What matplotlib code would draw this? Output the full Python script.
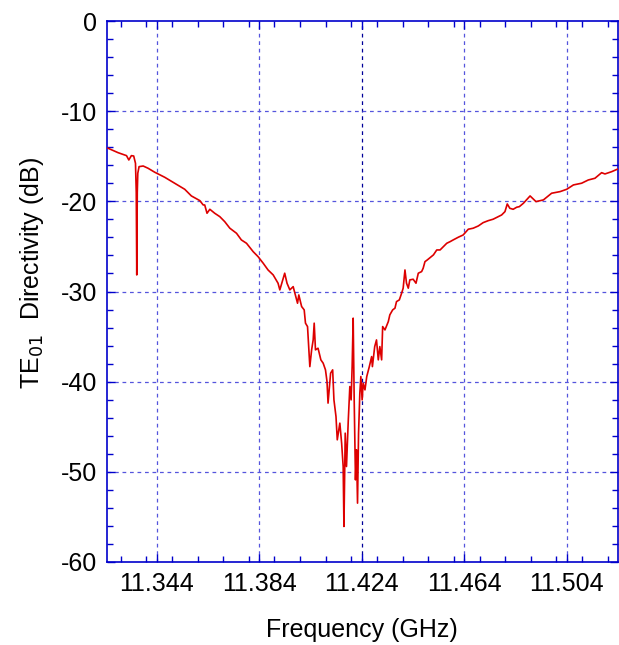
import matplotlib.pyplot as plt
from matplotlib.ticker import MultipleLocator, FixedLocator
import numpy as np

# frequency (GHz) and TE01 directivity (dB)
freq = [11.3251, 11.3290, 11.3323, 11.3332, 11.3342, 11.3351, 11.3358, 11.3361,
        11.3363, 11.3365, 11.3367, 11.3372, 11.3388, 11.3407, 11.3433, 11.3472,
        11.3511, 11.3550, 11.3576, 11.3609, 11.3622, 11.3628, 11.3637, 11.3648,
        11.3667, 11.3687, 11.3706, 11.3726, 11.3752, 11.3771, 11.3791, 11.3817,
        11.3836, 11.3856, 11.3875, 11.3895, 11.3914, 11.3921, 11.3940, 11.3949,
        11.3960, 11.3973, 11.3990, 11.3995, 11.4006, 11.4016, 11.4021, 11.4029,
        11.4038, 11.4045, 11.4051, 11.4055, 11.4060, 11.4070, 11.4081, 11.4090,
        11.4099, 11.4105, 11.4109, 11.4119, 11.4127, 11.4132, 11.4140, 11.4145,
        11.4155, 11.4162, 11.4168, 11.4171, 11.4176, 11.4181, 11.4188, 11.4194,
        11.4199, 11.4203, 11.4207, 11.4211, 11.4216, 11.4220, 11.4224, 11.4228,
        11.4233, 11.4237, 11.4242, 11.4246, 11.4253, 11.4260, 11.4270, 11.4279,
        11.4282, 11.4291, 11.4298, 11.4305, 11.4311, 11.4318, 11.4322, 11.4331,
        11.4344, 11.4350, 11.4361, 11.4370, 11.4376, 11.4387, 11.4396, 11.4402,
        11.4409, 11.4415, 11.4422, 11.4428, 11.4441, 11.4452, 11.4461, 11.4474,
        11.4480, 11.4487, 11.4496, 11.4504, 11.4520, 11.4533, 11.4546, 11.4559,
        11.4572, 11.4585, 11.4597, 11.4617, 11.4636, 11.4656, 11.4675, 11.4695,
        11.4714, 11.4734, 11.4753, 11.4773, 11.4786, 11.4799, 11.4808, 11.4818,
        11.4831, 11.4845, 11.4855, 11.4871, 11.4897, 11.4920, 11.4949, 11.4981,
        11.5014, 11.5040, 11.5066, 11.5098, 11.5124, 11.5150, 11.5176, 11.5189,
        11.5215, 11.5237]
directivity = [-14.11, -14.60, -14.93, -15.41, -14.93, -14.97, -15.78, -19.0,
               -28.16, -19.0, -16.88, -16.15, -16.08, -16.33, -16.77, -17.33,
               -17.99, -18.66, -19.40, -19.92, -20.40, -20.40, -21.32, -20.88,
               -21.32, -21.70, -22.25, -22.98, -23.54, -24.28, -24.65, -25.58,
               -26.13, -26.86, -27.61, -28.16, -29.08, -29.82, -27.97, -29.08,
               -29.82, -29.46, -31.30, -30.38, -31.67, -32.04, -33.51, -33.89,
               -38.33, -36.47, -35.37, -33.51, -36.47, -36.29, -37.58, -37.95,
               -38.69, -39.99, -42.38, -39.06, -38.69, -42.02, -43.87, -46.45,
               -44.60, -46.82, -49.41, -56.06, -45.71, -49.41, -44.24, -40.54,
               -42.02, -38.33, -32.96, -42.02, -50.89, -47.56, -53.47, -45.71,
               -41.27, -39.43, -42.02, -40.17, -40.91, -39.43, -38.33, -37.22,
               -38.33, -36.11, -35.37, -37.58, -36.11, -37.58, -33.89, -34.26,
               -33.34, -32.59, -32.04, -31.85, -31.12, -30.93, -30.19, -29.63,
               -27.61, -29.08, -29.63, -28.71, -28.64, -29.08, -27.97, -27.79,
               -27.42, -26.69, -26.50, -26.31, -25.94, -25.39, -25.39, -25.02,
               -24.65, -24.47, -24.28, -23.98, -23.73, -23.09, -22.98, -22.73,
               -22.36, -22.14, -21.98, -21.70, -21.51, -21.14, -20.29, -20.77,
               -20.88, -20.65, -20.59, -20.21, -19.40, -20.03, -19.84, -19.10,
               -18.92, -18.66, -18.18, -17.99, -17.63, -17.44, -16.82, -16.96,
               -16.71, -16.44]

x_ticks = [11.344, 11.384, 11.424, 11.464, 11.504]
x_tick_labels = ["11.344", "11.384", "11.424", "11.464", "11.504"]

plt.rcParams['font.family'] = ['Liberation Sans', 'DejaVu Sans']
plt.rcParams['axes.unicode_minus'] = False

fig = plt.figure(figsize=(6.19, 6.45), dpi=100)
ax = fig.add_axes([0.1729, 0.1287, 0.8247, 0.8387])

ax.set_xlim(11.3247, 11.5238)
ax.set_ylim(-60, 0)

# grid: light blue dashes, the 11.424 line is darker
for xv in x_ticks:
    col = '#000099' if xv == 11.424 else '#5555dd'
    ax.axvline(xv, color=col, ls=(0, (3, 3)), lw=0.9, zorder=1)
for yv in range(-50, 0, 10):
    ax.axhline(yv, color='#5555dd', ls=(0, (3, 3)), lw=0.9, zorder=1)

ax.plot(freq, directivity, color='#dd0000', lw=1.2, zorder=3)

ax.xaxis.set_major_locator(FixedLocator(x_ticks))
ax.set_xticklabels(x_tick_labels)
ax.xaxis.set_minor_locator(MultipleLocator(0.01))
ax.yaxis.set_major_locator(MultipleLocator(10))
ax.yaxis.set_minor_locator(MultipleLocator(2))

ax.tick_params(which='both', direction='in', top=True, right=True,
               color='#0000cc', labelsize=18, labelcolor='black')
ax.tick_params(which='major', length=6, width=1, pad=7)
ax.tick_params(which='minor', length=4, width=1)
for s in ax.spines.values():
    s.set_color('#0000cc')
    s.set_linewidth(1.2)

ax.set_xlabel("Frequency (GHz)", fontsize=18, labelpad=16)
ax.set_ylabel("TE$_{01}$  Directivity (dB)", fontsize=18)
ax.yaxis.set_label_coords(-0.12, 0.535)

fig.savefig("out.png", dpi=100)
